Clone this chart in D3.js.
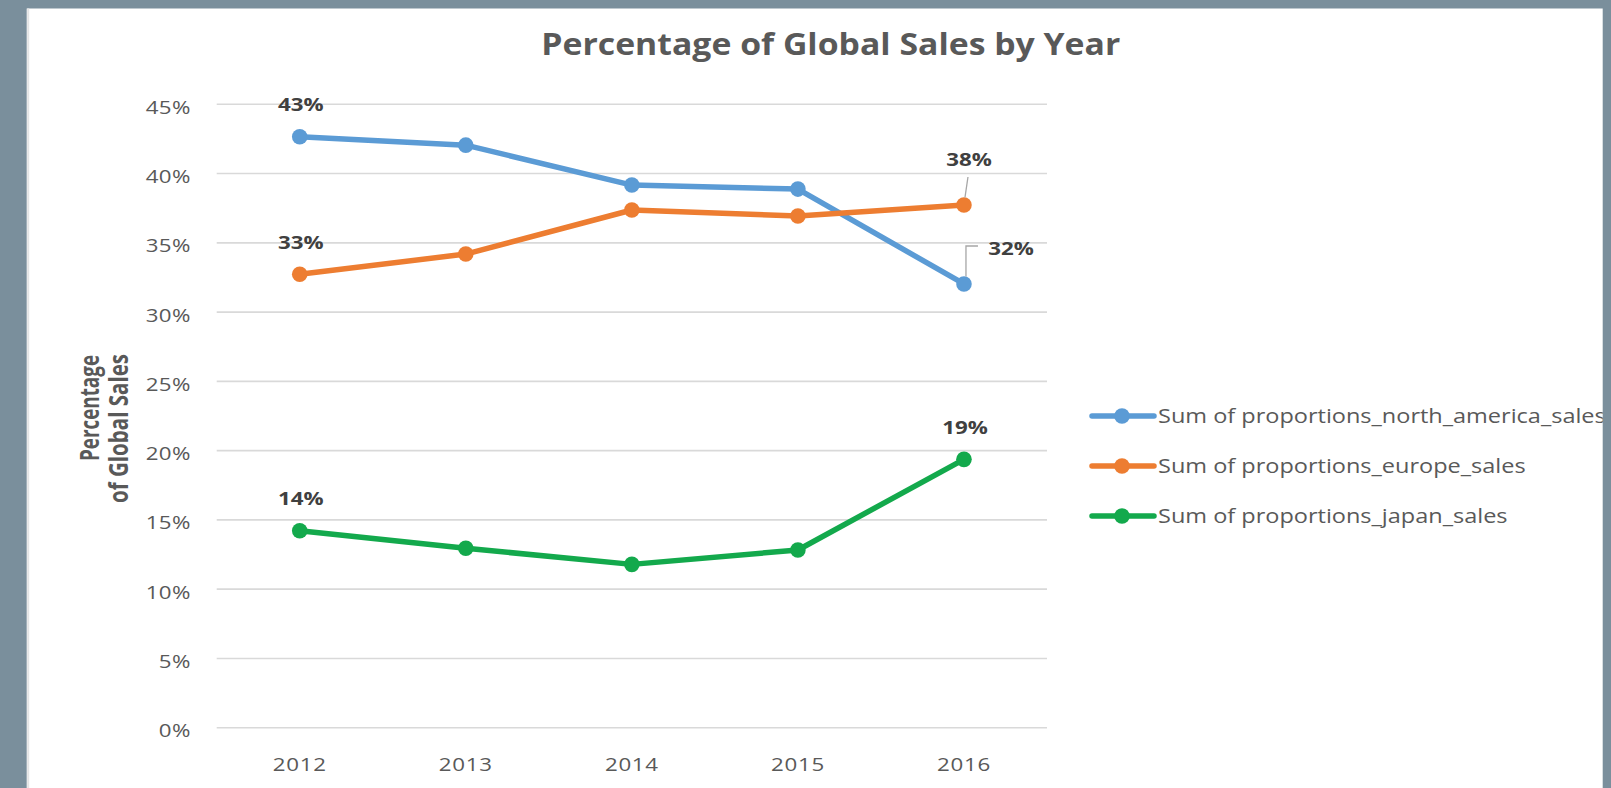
<!DOCTYPE html>
<html>
<head>
<meta charset="utf-8">
<script src="https://cdn.jsdelivr.net/npm/d3@7"></script>
<style>
  html, body { margin: 0; padding: 0; background: #7a8f9c; overflow: hidden; }
  svg { display: block; }
</style>
</head>
<body>
<svg id="chart" width="1611" height="788"></svg>
<script>
// ---- data ----
const years = ["2012", "2013", "2014", "2015", "2016"];
const northAmerica = [0.4266, 0.4205, 0.3917, 0.3888, 0.3203];
const europe       = [0.3273, 0.3419, 0.3737, 0.3694, 0.3773];
const japan        = [0.1422, 0.1295, 0.1179, 0.1283, 0.1937];
const seriesNames  = [
  "Sum of proportions_north_america_sales",
  "Sum of proportions_europe_sales",
  "Sum of proportions_japan_sales"
];
const yTicks = [0, 0.05, 0.10, 0.15, 0.20, 0.25, 0.30, 0.35, 0.40, 0.45];
const labeledPoints = [0, 4];   // first and last year carry value labels
const chartTitle = "Percentage of Global Sales by Year";
const axisTitle = ["Percentage", "of Global Sales"];

// ---- styling ----
const colors = ["#5b9bd5", "#ed7d31", "#13a94c"];
const textGrey = "#595959";
const labelGrey = "#404040";
const FONT = "'Open Sans', 'Noto Sans', sans-serif";
const SX = 1.2;                      // horizontal stretch of the lettering

const series = [northAmerica, europe, japan].map((values, i) => ({
  name: seriesNames[i], values, color: colors[i]
}));

const svg = d3.select("#chart");

// white card
const panel = { x: 26.7, y: 8.5, w: 1576, h: 800 };
svg.append("defs").append("clipPath").attr("id", "panelClip")
  .append("rect").attr("x", panel.x).attr("y", panel.y).attr("width", panel.w).attr("height", panel.h);
svg.append("rect")
  .attr("x", panel.x).attr("y", panel.y).attr("width", panel.w).attr("height", panel.h)
  .attr("fill", "#ffffff");
svg.append("line")
  .attr("x1", panel.x + 1.5).attr("x2", panel.x + 1.5).attr("y1", panel.y).attr("y2", 788)
  .attr("stroke", "#e4e4e4").attr("stroke-width", 2);

const root = svg.append("g").attr("clip-path", "url(#panelClip)");

// ---- scales ----
const plot = { left: 216.7, right: 1047, top: 104.3, bottom: 727.7 };
const x = d3.scaleBand().domain(years).range([plot.left, plot.right]);
const y = d3.scaleLinear().domain([0, 0.45]).range([plot.bottom, plot.top]);
const cx = d => x(d) + x.bandwidth() / 2;
const pct = d3.format(".0%");

// ---- gridlines ----
root.append("g").selectAll("line").data(yTicks).join("line")
  .attr("x1", plot.left).attr("x2", plot.right)
  .attr("y1", d => y(d)).attr("y2", d => y(d))
  .attr("stroke", "#d9d9d9").attr("stroke-width", 1.6);

// ---- axes ----
const yAxis = root.append("g")
  .attr("transform", `translate(${plot.left},0)`)
  .call(d3.axisLeft(y).tickValues(yTicks).tickFormat(pct).tickSize(0).tickPadding(0));
yAxis.select(".domain").remove();
yAxis.attr("font-family", null).attr("font-size", null);
yAxis.selectAll("text")
  .attr("x", null).attr("dy", null)
  .attr("transform", `translate(-26,9) scale(${SX},1)`)
  .attr("text-anchor", "end")
  .attr("font-family", FONT).attr("font-size", 18.6)
  .attr("fill", textGrey).style("letter-spacing", "0.3px");

const xAxis = root.append("g")
  .attr("transform", `translate(0,${plot.bottom})`)
  .call(d3.axisBottom(x).tickSize(0).tickPadding(0));
xAxis.select(".domain").remove();
xAxis.attr("font-family", null).attr("font-size", null);
xAxis.selectAll("text")
  .attr("y", null).attr("dy", null)
  .attr("transform", `translate(0,43.3) scale(${SX},1)`)
  .attr("font-family", FONT).attr("font-size", 18.6)
  .attr("fill", textGrey).style("letter-spacing", "0.6px");

// ---- lines and markers ----
const line = d3.line().x((d, i) => cx(years[i])).y(d => y(d));
const sg = root.append("g").selectAll("g").data(series).join("g");
sg.append("path")
  .attr("d", d => line(d.values))
  .attr("fill", "none").attr("stroke", d => d.color)
  .attr("stroke-width", 5.5).attr("stroke-linejoin", "round").attr("stroke-linecap", "round");
sg.selectAll("circle").data(d => d.values.map((v, i) => ({ v, i, color: d.color }))).join("circle")
  .attr("cx", d => cx(years[d.i])).attr("cy", d => y(d.v))
  .attr("r", 7.8).attr("fill", d => d.color);

// ---- value labels ----
// offsets of the label centre from its point; two labels use leader lines
const labelOffset = (s, i) => {
  if (s === 1 && i === 4) return { dx: 5, dy: -46, leader: "straight" };
  if (s === 0 && i === 4) return { dx: 47, dy: -36, leader: "elbow" };
  return { dx: 1, dy: -32, leader: null };
};
const labels = [];
series.forEach((sr, s) => labeledPoints.forEach(i => {
  const o = labelOffset(s, i);
  labels.push({ v: sr.values[i], px: cx(years[i]), py: y(sr.values[i]), ...o });
}));
const lg = root.append("g");
lg.selectAll("path.leader").data(labels.filter(d => d.leader)).join("path")
  .attr("class", "leader")
  .attr("d", d => d.leader === "straight"
    ? `M${d.px + 4},${d.py - 28}L${d.px + 1},${d.py - 7.5}`
    : `M${d.px + 2},${d.py - 7.5}L${d.px + 2},${d.py - 38}L${d.px + 14},${d.py - 38}`)
  .attr("fill", "none").attr("stroke", "#a6a6a6").attr("stroke-width", 1.3);
lg.selectAll("text").data(labels).join("text")
  .attr("transform", d => `translate(${d.px + d.dx},${d.py + d.dy + 6.6}) scale(${SX},1)`)
  .attr("text-anchor", "middle")
  .attr("font-family", FONT).attr("font-size", 18.6).attr("font-weight", 700)
  .attr("fill", labelGrey)
  .text(d => pct(d.v));

// ---- title ----
root.append("text")
  .attr("x", 830.8).attr("y", 54.5)
  .attr("text-anchor", "middle")
  .attr("font-family", FONT).attr("font-size", 31).attr("font-weight", 700)
  .attr("fill", textGrey)
  .attr("textLength", 579).attr("lengthAdjust", "spacingAndGlyphs")
  .text(chartTitle);

// ---- y axis title (two rotated lines) ----
const axisTitlePos = [
  { bx: 99, cy: 408, len: 106 },
  { bx: 128, cy: 428.5, len: 149 }
];
root.append("g").selectAll("text").data(axisTitle).join("text")
  .attr("transform", (d, i) => `translate(${axisTitlePos[i].bx},${axisTitlePos[i].cy}) scale(1.3,1) rotate(-90)`)
  .attr("text-anchor", "middle")
  .attr("font-family", FONT).attr("font-size", 20).attr("font-weight", 700)
  .attr("fill", textGrey)
  .attr("textLength", (d, i) => axisTitlePos[i].len).attr("lengthAdjust", "spacingAndGlyphs")
  .text(d => d);

// ---- legend ----
const legend = { x1: 1092, x2: 1154, mx: 1122, tx: 1158, y0: 416, step: 50 };
const li = root.append("g").selectAll("g").data(series).join("g")
  .attr("transform", (d, i) => `translate(0,${legend.y0 + i * legend.step})`);
li.append("line")
  .attr("x1", legend.x1).attr("x2", legend.x2)
  .attr("stroke", d => d.color).attr("stroke-width", 5.5).attr("stroke-linecap", "round");
li.append("circle").attr("cx", legend.mx).attr("r", 7.8).attr("fill", d => d.color);
li.append("text")
  .attr("transform", `translate(${legend.tx},7) scale(${SX},1)`)
  .attr("font-family", FONT).attr("font-size", 19.6)
  .attr("fill", textGrey)
  .text(d => d.name);
</script>
</body>
</html>
